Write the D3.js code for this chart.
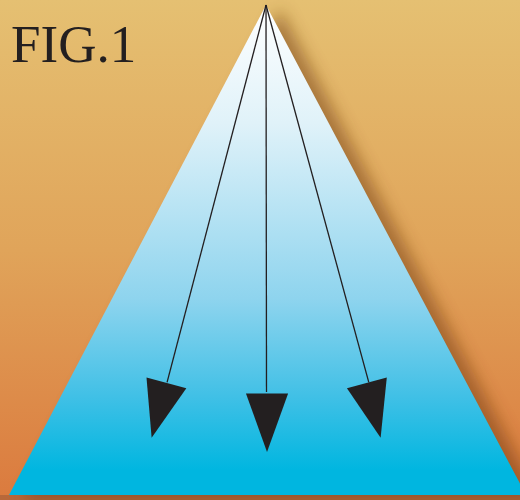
<!DOCTYPE html>
<html>
<head>
<meta charset="utf-8">
<script src="https://cdn.jsdelivr.net/npm/d3@7"></script>
<style>
  html, body { margin: 0; padding: 0; background: #fff; }
  svg { display: block; }
</style>
</head>
<body>
<div id="fig"></div>
<script>
"use strict";

// figure content, in unit space: apex at (0,0), base from x=-1..1 at y=1
const title = "FIG.1";
const triangle = [[0, 0], [-1, 1], [1.012, 1]];
// arrow line ends and arrowhead points (unit space)
const arrowEnds = [[-0.385, 0.77], [0.002, 0.79], [0.4, 0.77]];
const arrowHeads = [
  [[-0.465, 0.76], [-0.31, 0.782], [-0.445, 0.883]],
  [[-0.078, 0.793], [0.086, 0.793], [0.004, 0.912]],
  [[0.315, 0.782], [0.47, 0.76], [0.446, 0.883]]
];
// triangle fill, top to bottom (offset as fraction of height)
const fillStops = [[0, "#ffffff"], [0.24, "#e0f2f9"], [0.6, "#8ed4ee"], [0.8, "#40c0e6"], [0.95, "#00b6e0"]];

const width = 520, height = 500;

const x = d3.scaleLinear().domain([-1, 1]).range([9, 523]);
const y = d3.scaleLinear().domain([0, 1]).range([5, 495]);

const svg = d3.select("#fig").append("svg")
  .attr("width", width)
  .attr("height", height);

const defs = svg.append("defs");

let bg = defs.append("linearGradient").attr("id", "bgGrad")
  .attr("x1", 0).attr("y1", 0).attr("x2", 0).attr("y2", 1);
bg.append("stop").attr("offset", "0%").attr("stop-color", "#e5c072");
bg.append("stop").attr("offset", "50%").attr("stop-color", "#e0a45a");
bg.append("stop").attr("offset", "100%").attr("stop-color", "#db7a3e");

let tri = defs.append("linearGradient").attr("id", "triGrad")
  .attr("gradientUnits", "userSpaceOnUse")
  .attr("x1", 0).attr("y1", y(0)).attr("x2", 0).attr("y2", y(1));
tri.selectAll("stop").data(fillStops)
  .enter().append("stop")
  .attr("offset", d => d[0])
  .attr("stop-color", d => d[1]);

defs.append("filter").attr("id", "blur")
  .attr("x", "-20%").attr("y", "-20%").attr("width", "140%").attr("height", "140%")
  .append("feGaussianBlur").attr("stdDeviation", 8);

svg.append("rect")
  .attr("width", width).attr("height", height)
  .attr("fill", "url(#bgGrad)");

// bottom shadow strip
svg.append("rect")
  .attr("x", 0).attr("y", y(1)).attr("width", width).attr("height", height - y(1))
  .attr("fill", "#b8683a");

let line = d3.line().x(d => x(d[0])).y(d => y(d[1]));

// drop shadow on right side
svg.append("path")
  .attr("d", line(triangle) + "Z")
  .attr("transform", "translate(14,4)")
  .attr("fill", "#6e3810")
  .attr("opacity", 0.5)
  .attr("filter", "url(#blur)");

svg.append("path")
  .attr("d", line(triangle) + "Z")
  .attr("fill", "url(#triGrad)");

svg.append("text")
  .attr("x", 11).attr("y", 62)
  .attr("font-family", "'Liberation Serif', 'DejaVu Serif', serif")
  .attr("font-size", 53)
  .attr("fill", "#231f20")
  .text(title);

svg.selectAll(".shaft").data(arrowEnds)
  .enter().append("line")
  .attr("class", "shaft")
  .attr("x1", x(0)).attr("y1", y(0))
  .attr("x2", d => x(d[0])).attr("y2", d => y(d[1]))
  .attr("stroke", "#231f20")
  .attr("stroke-width", 1.3);

svg.selectAll(".head").data(arrowHeads)
  .enter().append("path")
  .attr("class", "head")
  .attr("d", d => line(d) + "Z")
  .attr("fill", "#231f20");
</script>
</body>
</html>
